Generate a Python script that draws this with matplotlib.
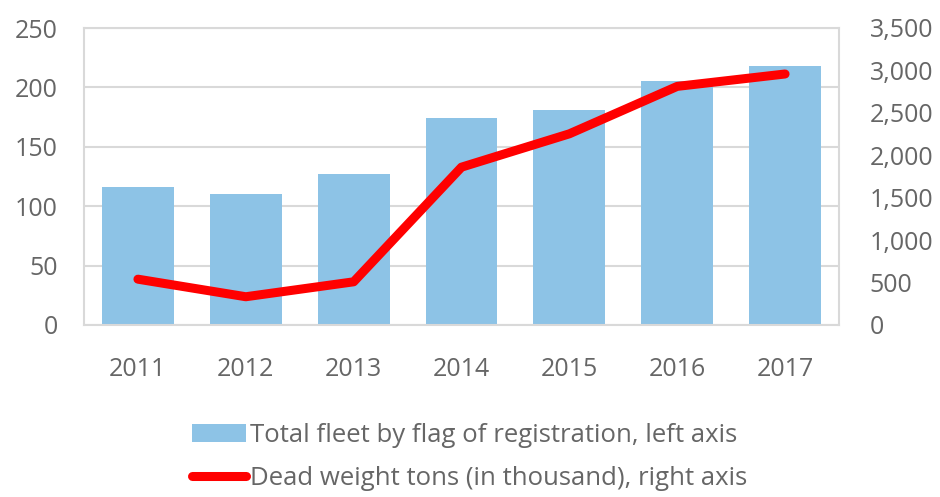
import numpy as np
import matplotlib.pyplot as plt
from matplotlib.ticker import FuncFormatter

years = ['2011', '2012', '2013', '2014', '2015', '2016', '2017']
fleet = [116, 110.5, 127, 174, 181, 205.5, 218]
dwt = [540, 333, 509, 1860, 2253, 2812, 2958]

plt.rcParams['font.family'] = ['Open Sans', 'DejaVu Sans']
grey = '#666666'

fig = plt.figure(figsize=(9.4, 4.97), dpi=100)
ax = fig.add_axes([84 / 940, 1 - 325 / 497, 755 / 940, 297 / 497])
x = np.arange(len(years))
bars = ax.bar(x, fleet, width=0.665, color='#8DC3E6', zorder=2,
              label='Total fleet by flag of registration, left axis')
ax.set_ylim(0, 250)
ax.set_yticks(range(0, 251, 50))
ax.set_xlim(-0.5, len(years) - 0.5)
ax.set_xticks(x)
ax.set_xticklabels(years)
ax.grid(axis='y', color='#D9D9D9', linewidth=1.5, zorder=0)
for s in ax.spines.values():
    s.set_color('#D9D9D9')
    s.set_linewidth(1.5)
ax.tick_params(length=0, labelsize=18, colors=grey, pad=19)
ax.tick_params(axis='x', pad=23)

ax2 = ax.twinx()
line, = ax2.plot(x, dwt, color='#FF0000', linewidth=6.5, solid_capstyle='round',
                 solid_joinstyle='round', zorder=3,
                 label='Dead weight tons (in thousand), right axis')
ax2.set_ylim(0, 3500)
ax2.set_yticks(range(0, 3501, 500))
ax2.yaxis.set_major_formatter(FuncFormatter(lambda v, p: f'{int(v):,}'))
ax2.tick_params(length=0, labelsize=18, colors=grey, pad=22)
for s in ax2.spines.values():
    s.set_visible(False)

fig.legend([bars, line], [bars.get_label(), line.get_label()],
           loc='center', bbox_to_anchor=(0.5, 1 - 457 / 497), ncol=1,
           frameon=False, fontsize=18.5, labelcolor=grey,
           handlelength=2.1, handletextpad=0.15, labelspacing=0.72,
           borderpad=0)

fig.savefig('out.png', dpi=100)
